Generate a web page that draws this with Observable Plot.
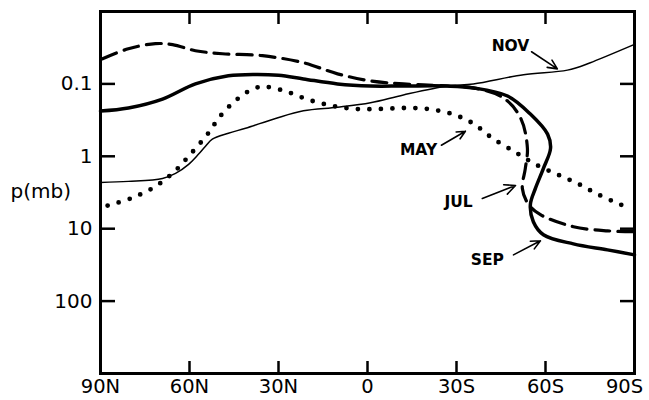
<!DOCTYPE html>
<html>
<head>
<meta charset="utf-8">
<script src="https://cdn.jsdelivr.net/npm/d3@7"></script>
<script src="https://cdn.jsdelivr.net/npm/@observablehq/plot@0.6"></script>
<style>
  html, body { margin: 0; padding: 0; background: #fff; }
  #chart { width: 649px; height: 400px; }
</style>
</head>
<body>
<div id="chart"></div>
<script>
// Latitude (deg, + = N) and pressure (mb) along each curve
const novLat = [90, 80.6, 69.1, 64.7, 60.3, 57, 54.6, 52.3, 46.9, 41.1, 31, 21.6, 10.1, -1, -12.1, -27, -35.7, -52.6, -67.4, -75.1, -89.8];
const novP   = [2.3, 2.22, 2.02, 1.72, 1.29, 0.94, 0.726, 0.58, 0.48, 0.41, 0.30, 0.235, 0.21, 0.182, 0.142, 0.107, 0.1, 0.0745, 0.0645, 0.051, 0.0287];

const sepLat = [90, 80.6, 69.1, 58, 46.9, 38, 30, 21.6, 10.1, -1, -12.1, -27, -35.7, -47.2, -54.9, -60.7, -61.7, -59.3, -56.6, -54.9, -55.9, -59.3, -69.4, -80.9, -90];
const sepP   = [0.237, 0.215, 0.162, 0.1, 0.0774, 0.074, 0.076, 0.0853, 0.1, 0.107, 0.107, 0.107, 0.1136, 0.147, 0.261, 0.494, 0.774, 1.47, 2.78, 4.64, 8.0, 12.1, 16.2, 19.6, 23.0];

const julLat = [89.3, 80.6, 71.5, 65.7, 58, 48.9, 35.4, 21.6, 10.1, -1, -12.1, -27, -35.7, -45.8, -51.6, -53.9, -53.2, -52.2, -54.3, -58.3, -69.4, -80.9, -90];
const julP   = [0.045, 0.0327, 0.0278, 0.0287, 0.0348, 0.0383, 0.0408, 0.051, 0.0726, 0.0909, 0.1, 0.107, 0.1136, 0.156, 0.296, 0.774, 1.47, 2.78, 4.64, 6.4, 9.38, 10.7, 11.0];

const mayLat = [87.6, 79.9, 72.1, 65.4, 59.7, 53.9, 49.6, 43.8, 37.8, 33.7, 27, 19.6, 11.5, 3.7, -4.4, -12.8, -20.5, -28.6, -35.4, -42.1, -49.9, -56.6, -64, -70.8, -77.8, -85.3, -89];
const mayP   = [4.8, 3.83, 2.7, 1.67, 0.938, 0.494, 0.278, 0.161, 0.1137, 0.110, 0.129, 0.167, 0.202, 0.222, 0.222, 0.215, 0.222, 0.261, 0.348, 0.562, 0.88, 1.29, 1.78, 2.37, 3.37, 4.64, 5.27];

// Axis ticks and labels
const xTicks = [90, 60, 30, 0, -30, -60, -90];
const xTickLabels = ["90N", "60N", "30N", "0", "30S", "60S", "90S"];
const yTicks = [0.1, 1, 10, 100];
const yTickLabels = ["0.1", "1", "10", "100"];

// Curve labels (text position and arrow from/to, in lat / mb)
const labelNames = ["NOV", "MAY", "JUL", "SEP"];
const labelLat   = [-48.2, -17.2, -30.7, -40.4];
const labelP     = [0.0296, 0.826, 4.22, 27];
const arrowLat1  = [-55.3, -24.9, -38.7, -49.2];
const arrowP1    = [0.036, 0.703, 3.83, 23.0];
const arrowLat2  = [-64.0, -33.0, -49.9, -58.3];
const arrowP2    = [0.062, 0.45, 2.53, 14.7];

const toRows = (lat, p) => lat.map((d, i) => ({lat: d, p: p[i]}));
const nov = toRows(novLat, novP);
const sep = toRows(sepLat, sepP);
const jul = toRows(julLat, julP);
const may = toRows(mayLat, mayP);
const labels = labelNames.map((n, i) => ({
  name: n, lat: labelLat[i], p: labelP[i],
  x1: arrowLat1[i], y1: arrowP1[i], x2: arrowLat2[i], y2: arrowP2[i]
}));

const font = "DejaVu Sans, Liberation Sans, sans-serif";
const xFmt = (d) => xTickLabels[xTicks.indexOf(d)];

const chart = Plot.plot({
  width: 649,
  height: 400,
  marginLeft: 100,
  marginRight: 15,
  marginTop: 11,
  marginBottom: 27,
  style: {fontFamily: font, background: "#fff", color: "#000"},
  x: {domain: [90, -90]},
  y: {type: "log", domain: [0.01, 1000], reverse: true},
  marks: [
    // inward ticks
    Plot.axisY(yTicks, {anchor: "left", tickSize: -15, strokeWidth: 2.5, tickFormat: () => "", label: null}),
    Plot.axisY(yTicks, {anchor: "right", tickSize: -15, strokeWidth: 2.5, tickFormat: () => "", label: null}),
    Plot.axisX(xTicks.slice(1, -1), {anchor: "bottom", tickSize: -12, strokeWidth: 2.5, tickFormat: () => "", label: null}),
    Plot.axisX(xTicks.slice(1, -1), {anchor: "top", tickSize: -12, strokeWidth: 2.5, tickFormat: () => "", label: null}),
    // tick labels
    Plot.axisY(yTicks, {anchor: "left", tickSize: 0, tickPadding: 8, fontSize: 20, tickFormat: (d) => yTickLabels[yTicks.indexOf(d)], label: null, fill: "#000"}),
    Plot.axisX(xTicks.slice(0, -1), {anchor: "bottom", tickSize: 0, tickPadding: 6, fontSize: 19.5, letterSpacing: 1, tickFormat: xFmt, label: null, fill: "#000"}),
    Plot.axisX(xTicks.slice(-1), {anchor: "bottom", tickSize: 0, tickPadding: 6, fontSize: 19.5, letterSpacing: 1, dx: -10, tickFormat: xFmt, label: null, fill: "#000"}),
    Plot.text(["p(mb)"], {frameAnchor: "left", dx: -90, dy: -1, textAnchor: "start", fontSize: 20, fill: "#000"}),
    // curves
    Plot.line(nov, {x: "lat", y: "p", curve: "catmull-rom", stroke: "#000", strokeWidth: 1.5}),
    Plot.line(sep, {x: "lat", y: "p", curve: "catmull-rom", stroke: "#000", strokeWidth: 3.5}),
    Plot.line(jul, {x: "lat", y: "p", curve: "catmull-rom", stroke: "#000", strokeWidth: 3.2, strokeDasharray: "15 8"}),
    Plot.line(may, {x: "lat", y: "p", curve: "catmull-rom", stroke: "#000", strokeWidth: 4.8, strokeDasharray: "0 11.5", strokeLinecap: "round"}),
    // labels
    Plot.arrow(labels, {x1: "x1", y1: "y1", x2: "x2", y2: "y2", stroke: "#000", strokeWidth: 1.6, headLength: 12, headAngle: 50}),
    Plot.text(labels, {x: "lat", y: "p", text: "name", fontSize: 15.5, fontWeight: "bold", fill: "#000"}),
    Plot.frame({stroke: "#000", strokeWidth: 3})
  ]
});

document.getElementById("chart").appendChild(chart);
</script>
</body>
</html>
